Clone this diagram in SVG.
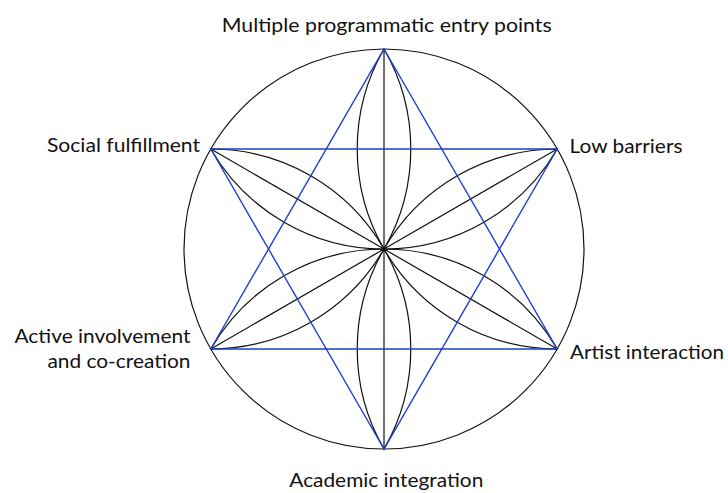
<svg xmlns="http://www.w3.org/2000/svg" width="728" height="493" viewBox="0 0 728 493">
  <style>
    .blk { fill: none; stroke: #111; stroke-width: 1.2; }
    .blu { fill: none; stroke: #1f3fcc; stroke-width: 1.4; stroke-linejoin: miter; }
    .lbl { font-family: "Lato", "Open Sans", "Liberation Sans", sans-serif; font-size: 20px; fill: #111; }
  </style>
  <rect width="728" height="493" fill="#ffffff"/>
  <g id="connectors">
    <circle id="outer-circle" class="blk" cx="384" cy="249" r="200"/>
    <g id="petals" class="blk">
      <path d="M384,249 A200,200 0 0 1 384,49 A200,200 0 0 1 384,249 Z"/>
      <path d="M384,249 A200,200 0 0 1 557.2,149 A200,200 0 0 1 384,249 Z"/>
      <path d="M384,249 A200,200 0 0 1 557.2,349 A200,200 0 0 1 384,249 Z"/>
      <path d="M384,249 A200,200 0 0 1 384,449 A200,200 0 0 1 384,249 Z"/>
      <path d="M384,249 A200,200 0 0 1 210.8,349 A200,200 0 0 1 384,249 Z"/>
      <path d="M384,249 A200,200 0 0 1 210.8,149 A200,200 0 0 1 384,249 Z"/>
    </g>
    <g id="spokes" class="blk">
      <line x1="384" y1="249" x2="384" y2="49"/>
      <line x1="384" y1="249" x2="557.2" y2="149"/>
      <line x1="384" y1="249" x2="557.2" y2="349"/>
      <line x1="384" y1="249" x2="384" y2="449"/>
      <line x1="384" y1="249" x2="210.8" y2="349"/>
      <line x1="384" y1="249" x2="210.8" y2="149"/>
    </g>
    <g id="hexagram">
      <polygon class="blu" points="384,49 557.2,349 210.8,349"/>
      <polygon class="blu" points="384,449 210.8,149 557.2,149"/>
    </g>
  </g>
  <g id="node-top"><text class="lbl" x="386.7" y="31.5" text-anchor="middle" textLength="330" lengthAdjust="spacingAndGlyphs">Multiple programmatic entry points</text></g>
  <g id="node-upper-left"><text class="lbl" x="200" y="152" text-anchor="end" textLength="153" lengthAdjust="spacingAndGlyphs">Social fulfillment</text></g>
  <g id="node-upper-right"><text class="lbl" x="569.5" y="153.3" textLength="113" lengthAdjust="spacingAndGlyphs">Low barriers</text></g>
  <g id="node-lower-left">
    <text class="lbl" x="190.5" y="343" text-anchor="end" textLength="176" lengthAdjust="spacingAndGlyphs">Active involvement</text>
    <text class="lbl" x="190.5" y="368" text-anchor="end" textLength="143" lengthAdjust="spacingAndGlyphs">and co-creation</text>
  </g>
  <g id="node-lower-right"><text class="lbl" x="570" y="359.3" textLength="154" lengthAdjust="spacingAndGlyphs">Artist interaction</text></g>
  <g id="node-bottom"><text class="lbl" x="386.3" y="486.7" text-anchor="middle" textLength="194" lengthAdjust="spacingAndGlyphs">Academic integration</text></g>
</svg>
